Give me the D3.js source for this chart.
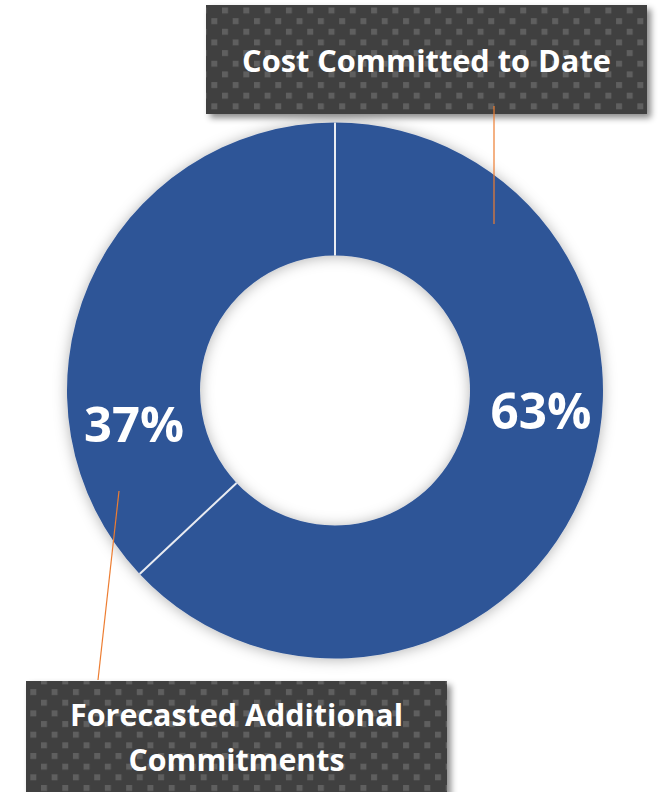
<!DOCTYPE html>
<html>
<head>
<meta charset="utf-8">
<script src="https://cdn.jsdelivr.net/npm/d3@7/dist/d3.min.js"></script>
<style>
  html, body { margin: 0; padding: 0; background: #ffffff; }
  svg { display: block; }
</style>
</head>
<body>
<svg id="chart" width="661" height="792"></svg>
<script>
// ---- data ----
const categories = ["Cost Committed to Date", "Forecasted Additional Commitments"];
const values = [63, 37];
const valueLabels = ["63%", "37%"];
const calloutLines = [["Cost Committed to Date"], ["Forecasted Additional", "Commitments"]];

// ---- layout ----
const W = 661, H = 792;
const cx = 335, cy = 390.5, R = 268, r = 135;
const FONT = "'Open Sans', Lato, 'DejaVu Sans', sans-serif";

const svg = d3.select("#chart");
const defs = svg.append("defs");

// drop shadow for donut
const f1 = defs.append("filter").attr("id", "donutShadow")
  .attr("x", "-20%").attr("y", "-20%").attr("width", "140%").attr("height", "140%");
f1.append("feDropShadow").attr("dx", 0).attr("dy", 1).attr("stdDeviation", 7)
  .attr("flood-color", "#000").attr("flood-opacity", 0.3);

// box shadow
const f2 = defs.append("filter").attr("id", "boxShadow")
  .attr("x", "-10%").attr("y", "-20%").attr("width", "125%").attr("height", "150%");
f2.append("feDropShadow").attr("dx", 4).attr("dy", 4).attr("stdDeviation", 3)
  .attr("flood-color", "#000").attr("flood-opacity", 0.45);

// dotted pattern
const P = 21.3;
const pat = defs.append("pattern").attr("id", "dots")
  .attr("patternUnits", "userSpaceOnUse").attr("width", P).attr("height", P)
  .attr("x", 9).attr("y", 7.5);
pat.append("rect").attr("width", P).attr("height", P).attr("fill", "#404040");
pat.append("rect").attr("x", 0).attr("y", 0).attr("width", 6).attr("height", 6).attr("fill", "#5e5e5e");
pat.append("rect").attr("x", P / 2).attr("y", P / 2).attr("width", 6).attr("height", 6).attr("fill", "#5e5e5e");

// ---- donut ----
const pie = d3.pie().sort(null).value(d => d)(values);
const arc = d3.arc().innerRadius(r).outerRadius(R);

const g = svg.append("g").attr("transform", `translate(${cx},${cy})`);
g.append("g").attr("filter", "url(#donutShadow)")
  .selectAll("path").data(pie).join("path")
  .attr("d", arc)
  .attr("fill", "#2F5597");

// separators (slice boundaries)
g.selectAll("line.sep").data(pie).join("line")
  .attr("class", "sep")
  .attr("x1", d => r * Math.sin(d.startAngle))
  .attr("y1", d => -r * Math.cos(d.startAngle))
  .attr("x2", d => R * Math.sin(d.startAngle))
  .attr("y2", d => -R * Math.cos(d.startAngle))
  .attr("stroke", "#e9ecf2").attr("stroke-width", 2);

// ---- helper to fit text width ----
function fit(sel, target) {
  const node = sel.node();
  const fs = parseFloat(sel.attr("font-size"));
  const w = node.getComputedTextLength();
  if (w > 0) sel.attr("font-size", fs * target / w);
}

// value labels (placed as in the reference)
const valuePos = [{x: 541, y: 429, w: 101}, {x: 134, y: 442, w: 100}];
pie.forEach((d, i) => {
  const t = svg.append("text")
    .attr("x", valuePos[i].x).attr("y", valuePos[i].y)
    .attr("text-anchor", "middle")
    .attr("font-family", FONT).attr("font-weight", 700)
    .attr("font-size", 52).attr("fill", "#ffffff")
    .text(valueLabels[i]);
  fit(t, valuePos[i].w);
});

// ---- leader lines ----
const leaders = [
  {x1: 494, y1: 106, x2: 494, y2: 224},
  {x1: 119, y1: 491, x2: 98, y2: 680}
];

// ---- callout boxes ----
const boxes = [
  {x: 206, y: 5, w: 441, h: 109, lines: [{y: 72, w: 369}]},
  {x: 26, y: 681, w: 421, h: 130, lines: [{y: 726, w: 333}, {y: 771, w: 216}]}
];

boxes.forEach((b, i) => {
  svg.append("rect")
    .attr("x", b.x).attr("y", b.y).attr("width", b.w).attr("height", b.h)
    .attr("fill", "url(#dots)").attr("filter", "url(#boxShadow)");
});

leaders.forEach(l => {
  svg.append("line")
    .attr("x1", l.x1).attr("y1", l.y1).attr("x2", l.x2).attr("y2", l.y2)
    .attr("stroke", "#ED7D31").attr("stroke-width", 1.2);
});

boxes.forEach((b, i) => {
  calloutLines[i].forEach((txt, j) => {
    const t = svg.append("text")
      .attr("x", b.x + b.w / 2).attr("y", b.lines[j].y)
      .attr("text-anchor", "middle")
      .attr("font-family", FONT).attr("font-weight", 700)
      .attr("font-size", 32).attr("fill", "#ffffff")
      .text(txt);
    fit(t, b.lines[j].w);
  });
});
</script>
</body>
</html>
